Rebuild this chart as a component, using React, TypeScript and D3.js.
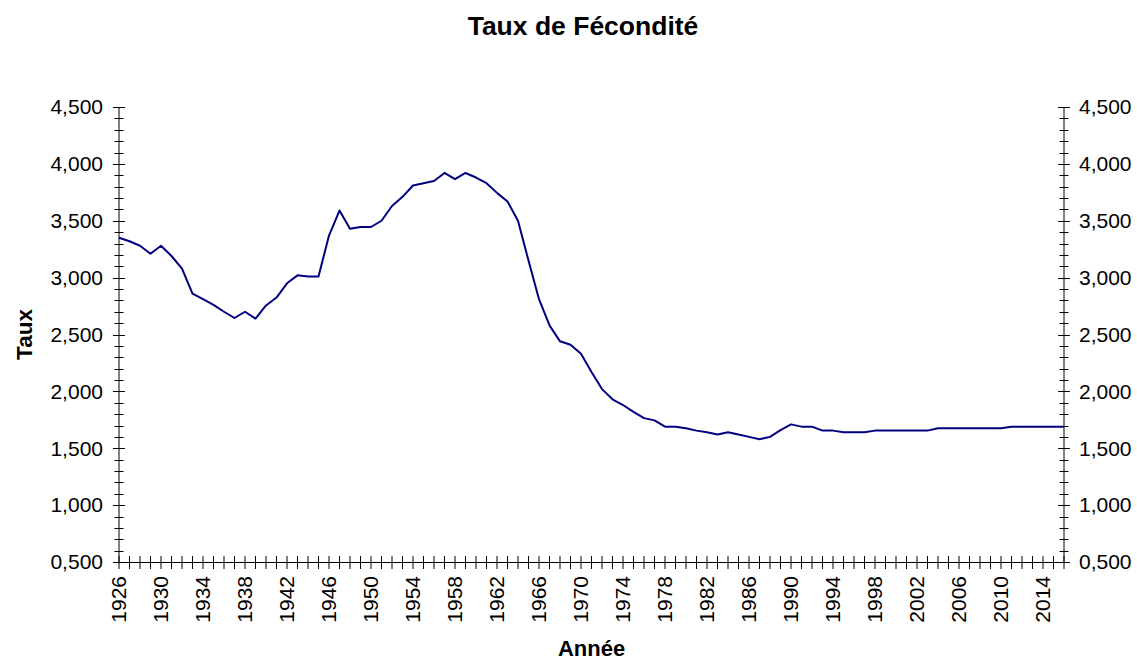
import React from "react";
import * as d3 from "d3";

const years: number[] = [
  1926, 1927, 1928, 1929, 1930, 1931, 1932, 1933, 1934, 1935,
  1936, 1937, 1938, 1939, 1940, 1941, 1942, 1943, 1944, 1945,
  1946, 1947, 1948, 1949, 1950, 1951, 1952, 1953, 1954, 1955,
  1956, 1957, 1958, 1959, 1960, 1961, 1962, 1963, 1964, 1965,
  1966, 1967, 1968, 1969, 1970, 1971, 1972, 1973, 1974, 1975,
  1976, 1977, 1978, 1979, 1980, 1981, 1982, 1983, 1984, 1985,
  1986, 1987, 1988, 1989, 1990, 1991, 1992, 1993, 1994, 1995,
  1996, 1997, 1998, 1999, 2000, 2001, 2002, 2003, 2004, 2005,
  2006, 2007, 2008, 2009, 2010, 2011, 2012, 2013, 2014, 2015,
  2016,
];

const taux: number[] = [
  3.35, 3.32, 3.28, 3.21, 3.28, 3.19, 3.08, 2.86, 2.81, 2.76,
  2.70, 2.645, 2.70, 2.64, 2.755, 2.825, 2.95, 3.02, 3.01, 3.01,
  3.37, 3.59, 3.43, 3.445, 3.445, 3.50, 3.63, 3.71, 3.81, 3.83,
  3.85, 3.92, 3.865, 3.92, 3.88, 3.83, 3.745, 3.67, 3.50, 3.15,
  2.81, 2.58, 2.44, 2.41, 2.33, 2.17, 2.02, 1.93, 1.88, 1.82,
  1.765, 1.745, 1.69, 1.69, 1.675, 1.655, 1.64, 1.62, 1.64, 1.62,
  1.60, 1.58, 1.60, 1.66, 1.71, 1.69, 1.69, 1.655, 1.655, 1.64,
  1.64, 1.64, 1.655, 1.655, 1.655, 1.655, 1.655, 1.655, 1.675, 1.675,
  1.675, 1.675, 1.675, 1.675, 1.675, 1.69, 1.69, 1.69, 1.69, 1.69,
  1.69,
];

const yMajorTicks: number[] = [0.5, 1.0, 1.5, 2.0, 2.5, 3.0, 3.5, 4.0, 4.5];
const yTickLabels: string[] = ["0,500", "1,000", "1,500", "2,000", "2,500", "3,000", "3,500", "4,000", "4,500"];
const xLabelYears: number[] = [1926, 1930, 1934, 1938, 1942, 1946, 1950, 1954, 1958, 1962, 1966, 1970, 1974, 1978, 1982, 1986, 1990, 1994, 1998, 2002, 2006, 2010, 2014];

const title = "Taux de Fécondité";
const xTitle = "Année";
const yTitle = "Taux";

const W = 1137;
const H = 662;
const left = 119;
const right = 1064;
const top = 107;
const bottom = 562;
const FONT = "'Liberation Sans', Arial, sans-serif";

export default function App() {
  const x = d3.scaleLinear().domain([1926, 2016]).range([left, right]);
  const y = d3.scaleLinear().domain([0.5, 4.5]).range([bottom, top]);
  const minorTicks = d3.range(5, 46).map((d) => d / 10);
  const line = d3
    .line<number>()
    .x((_, i) => x(years[i]))
    .y((d) => y(d));

  return (
    <svg
      width={W}
      height={H}
      style={{ position: "absolute", left: 0, top: 0, background: "#fff" }}
      fontFamily={FONT}
    >
      <rect x={0} y={0} width={W} height={H} fill="#fff" />
      <text x={583} y={35} textAnchor="middle" fontWeight="bold" fontSize={26.5} fill="#000">
        {title}
      </text>

      {[left, right].map((ax, k) => (
        <g key={"ax" + k}>
          <line x1={ax} x2={ax} y1={top} y2={bottom} stroke="#000" strokeWidth={1} />
          {minorTicks.map((t) => (
            <line key={t} x1={ax - 4.5} x2={ax + 4.5} y1={Math.round(y(t)) + 0.5} y2={Math.round(y(t)) + 0.5} stroke="#000" strokeWidth={1} />
          ))}
          {yMajorTicks.map((t) => (
            <line key={"M" + t} x1={ax - 6} x2={ax + 6} y1={Math.round(y(t)) + 0.5} y2={Math.round(y(t)) + 0.5} stroke="#000" strokeWidth={1} />
          ))}
          {yMajorTicks.map((t, i) => (
            <text
              key={"L" + t}
              x={k === 0 ? ax - 16 : ax + 15}
              y={y(t)}
              dy="0.35em"
              textAnchor={k === 0 ? "end" : "start"}
              fontSize={21}
              fill="#000"
            >
              {yTickLabels[i]}
            </text>
          ))}
        </g>
      ))}

      <line x1={left} x2={right} y1={bottom + 0.5} y2={bottom + 0.5} stroke="#000" strokeWidth={1} />
      {years.map((yr) => (
        <line key={"xt" + yr} x1={x(yr)} x2={x(yr)} y1={bottom - 6} y2={bottom + 7} stroke="#000" strokeWidth={1} />
      ))}
      {xLabelYears.map((yr) => (
        <text
          key={"xl" + yr}
          transform={`translate(${x(yr)},${bottom + 14}) rotate(-90)`}
          textAnchor="end"
          dy="0.35em"
          fontSize={21}
          fill="#000"
        >
          {yr}
        </text>
      ))}

      <path d={line(taux) || ""} fill="none" stroke="#000080" strokeWidth={2} strokeLinejoin="round" />

      <text x={(left + right) / 2} y={656} textAnchor="middle" fontWeight="bold" fontSize={22} fill="#000">
        {xTitle}
      </text>
      <text
        transform={`translate(32,${(top + bottom) / 2}) rotate(-90)`}
        textAnchor="middle"
        fontWeight="bold"
        fontSize={22.5}
        fill="#000"
      >
        {yTitle}
      </text>
    </svg>
  );
}
